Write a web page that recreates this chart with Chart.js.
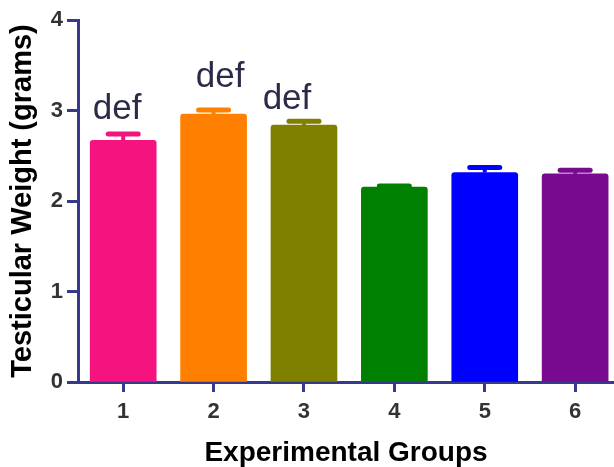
<!DOCTYPE html>
<html>
<head>
<meta charset="utf-8">
<script src="https://cdn.jsdelivr.net/npm/chart.js@4/dist/chart.umd.min.js"></script>
<style>
  html, body { margin: 0; padding: 0; background: #ffffff; overflow: hidden; }
  #wrap { width: 614px; height: 467px; }
</style>
</head>
<body>
<div id="wrap"><canvas id="c" width="614" height="467"></canvas></div>
<script>
// Testicular weight per experimental group (mean + SEM)
const groups = ['1', '2', '3', '4', '5', '6'];
const meanWeight = [2.67, 2.96, 2.84, 2.155, 2.315, 2.30];
const semWeight = [0.07, 0.045, 0.04, 0.012, 0.055, 0.04];
const sigLetters = ['def', 'def', 'def', '', '', ''];
const barColors = ['#f5137f', '#ff8000', '#808000', '#008000', '#0000ff', '#780a90'];
const yTicks = [0, 1, 2, 3, 4];

const axisColor = '#363a8c';
const fontFamily = '"Liberation Sans", Arial, Helvetica, sans-serif';

// Upward error bars with rounded caps, drawn in each bar's own colour
const errorBars = {
  id: 'errorBars',
  afterDatasetsDraw(chart, args, opts) {
    const ctx = chart.ctx;
    const meta = chart.getDatasetMeta(0);
    const yScale = chart.scales.y;
    ctx.save();
    meta.data.forEach((bar, i) => {
      const yTop = yScale.getPixelForValue(meanWeight[i] + semWeight[i]);
      ctx.strokeStyle = barColors[i];
      ctx.lineCap = 'butt';
      ctx.lineWidth = opts.stemWidth;
      ctx.beginPath();
      ctx.moveTo(bar.x, bar.y);
      ctx.lineTo(bar.x, yTop);
      ctx.stroke();
      ctx.lineCap = 'round';
      ctx.lineWidth = opts.capWidth;
      ctx.beginPath();
      ctx.moveTo(bar.x - opts.capHalf, yTop);
      ctx.lineTo(bar.x + opts.capHalf, yTop);
      ctx.stroke();
    });
    ctx.restore();
  }
};

// Significance letters above the error bars
const sigLabels = {
  id: 'sigLabels',
  afterDatasetsDraw(chart, args, opts) {
    const ctx = chart.ctx;
    const meta = chart.getDatasetMeta(0);
    const yScale = chart.scales.y;
    ctx.save();
    ctx.font = opts.font;
    ctx.fillStyle = opts.color;
    ctx.textAlign = 'center';
    ctx.textBaseline = 'alphabetic';
    meta.data.forEach((bar, i) => {
      if (!sigLetters[i]) return;
      const capTop = yScale.getPixelForValue(meanWeight[i] + semWeight[i]) - 2.5;
      const off = opts.offsets[i] || { dx: 0, dy: -12 };
      ctx.fillText(sigLetters[i], bar.x + off.dx, capTop + off.dy);
    });
    ctx.restore();
  }
};

new Chart(document.getElementById('c'), {
  type: 'bar',
  data: {
    datasets: [{
      data: groups.map((g, i) => ({ x: i + 1, y: meanWeight[i] })),
      backgroundColor: barColors,
      borderWidth: 0,
      borderRadius: 3,
      borderSkipped: 'start',
      barThickness: 66
    }]
  },
  plugins: [errorBars, sigLabels],
  options: {
    responsive: false,
    devicePixelRatio: 1,
    animation: false,
    layout: { padding: { top: 20, right: 0, bottom: 0, left: 0 } },
    plugins: {
      legend: { display: false },
      tooltip: { enabled: false },
      errorBars: { stemWidth: 4, capWidth: 5, capHalf: 15 },
      sigLabels: {
        font: '35px ' + fontFamily,
        color: '#2b2b48',
        offsets: [{ dx: -6, dy: -13 }, { dx: 6.5, dy: -21 }, { dx: -17, dy: -10 }]
      }
    },
    scales: {
      x: {
        type: 'linear',
        min: 0.5,
        max: 6.43,
        offset: false,
        afterBuildTicks(scale) {
          scale.ticks = groups.map((g, i) => ({ value: i + 1 }));
        },
        afterFit(scale) { scale.height = 85; },
        ticks: {
          callback: (v) => groups[v - 1],
          color: '#333333',
          font: { family: fontFamily, size: 22, weight: 'bold' },
          padding: 7,
          maxRotation: 0,
          autoSkip: false
        },
        grid: {
          offset: false,
          drawOnChartArea: false,
          drawTicks: true,
          tickLength: 10,
          tickWidth: 3,
          tickColor: axisColor
        },
        border: { display: true, color: axisColor, width: 3 },
        title: {
          display: true,
          text: 'Experimental Groups',
          color: '#000000',
          font: { family: fontFamily, size: 28, weight: 'bold' },
          padding: { top: 0, bottom: -3 }
        }
      },
      y: {
        min: 0,
        max: 4,
        afterBuildTicks(scale) {
          scale.ticks = yTicks.map(v => ({ value: v }));
        },
        afterFit(scale) { scale.width = 78; },
        ticks: {
          color: '#333333',
          font: { family: fontFamily, size: 22, weight: 'bold' },
          padding: 4
        },
        grid: {
          drawOnChartArea: false,
          drawTicks: true,
          tickLength: 11,
          tickWidth: 3,
          tickColor: axisColor
        },
        border: { display: true, color: axisColor, width: 3 },
        title: {
          display: true,
          text: 'Testicular Weight (grams)',
          color: '#000000',
          font: { family: fontFamily, size: 29, weight: 'bold' },
          align: 'center',
          padding: { top: 6, bottom: 0 }
        }
      }
    }
  }
});
</script>
</body>
</html>
